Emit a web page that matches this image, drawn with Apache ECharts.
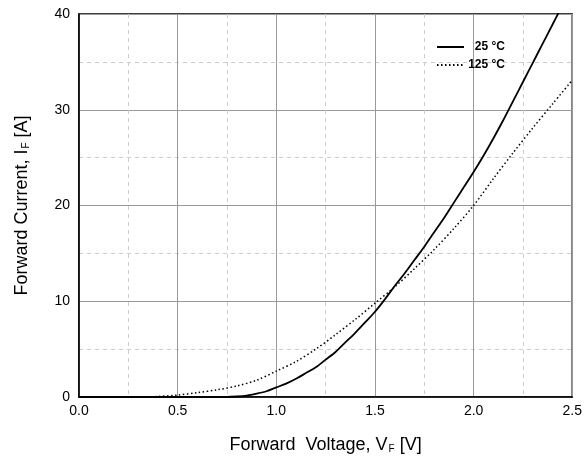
<!DOCTYPE html>
<html>
<head>
<meta charset="utf-8">
<script src="https://cdn.jsdelivr.net/npm/echarts@6/dist/echarts.min.js"></script>
<style>html,body{margin:0;padding:0;background:#fff}#c{width:585px;height:459px}</style>
</head>
<body>
<div id="c"></div>
<script>
const xTicks = [0.0, 0.5, 1.0, 1.5, 2.0, 2.5];
const yTicks = [0, 10, 20, 30, 40];
const seriesNames = ['25 °C', '125 °C'];
const v25 = [0.00, 0.75, 0.80, 0.85, 0.90, 0.95, 1.00, 1.05, 1.10, 1.15, 1.20, 1.25, 1.30, 1.35, 1.40, 1.45, 1.50, 1.55, 1.60, 1.65, 1.70, 1.75, 1.80, 1.85, 1.90, 1.95, 2.00, 2.05, 2.10, 2.15, 2.20, 2.25, 2.30, 2.35, 2.40, 2.44];
const i25 = [0.00, 0.00, 0.05, 0.15, 0.35, 0.60, 1.00, 1.40, 1.90, 2.50, 3.10, 3.90, 4.70, 5.70, 6.70, 7.80, 8.90, 10.20, 11.60, 12.90, 14.30, 15.70, 17.20, 18.70, 20.30, 21.90, 23.50, 25.20, 27.00, 28.90, 30.90, 32.90, 34.90, 36.90, 38.90, 40.50];
const v125 = [0.00, 0.35, 0.40, 0.50, 0.60, 0.70, 0.80, 0.90, 1.00, 1.10, 1.20, 1.30, 1.40, 1.50, 1.60, 1.70, 1.80, 1.90, 2.00, 2.10, 2.20, 2.30, 2.40, 2.50];
const i125 = [0.00, 0.00, 0.05, 0.20, 0.45, 0.75, 1.15, 1.75, 2.70, 3.70, 5.00, 6.50, 8.10, 9.80, 11.50, 13.40, 15.40, 17.60, 20.00, 22.80, 25.50, 28.10, 30.60, 33.10];

const pair = (xs, ys) => xs.map((x, k) => [x, ys[k]]);
const chart = echarts.init(document.getElementById('c'), null, {renderer: 'canvas'});
const FF = 'Liberation Sans, Arial, sans-serif';
const labelFont = {fontFamily: FF, fontSize: 14, color: '#000'};
const nameRich = {
  n: {fontFamily: FF, fontSize: 18, color: '#000', verticalAlign: 'bottom'},
  s: {fontFamily: FF, fontSize: 10, color: '#000', padding: [12, 0, 0, 1], verticalAlign: 'bottom'}
};
chart.setOption({
  animation: false,
  backgroundColor: '#fff',
  grid: {left: 79, top: 14, right: 11, bottom: 62, show: true, borderColor: '#000', borderWidth: 1.5, backgroundColor: 'transparent'},
  legend: {
    orient: 'vertical', left: 431, top: 36, itemWidth: 27, itemHeight: 12, itemGap: 6,
    itemStyle: {opacity: 0, color: 'transparent', borderWidth: 0},
    formatter: '{a|{name}}',
    textStyle: {fontFamily: FF, fontSize: 12, color: '#000', fontWeight: 'bold',
      rich: {a: {fontFamily: FF, fontSize: 12, color: '#000', fontWeight: 'bold', width: 36, align: 'right'}}},
    data: seriesNames.map(n => ({name: n}))
  },
  xAxis: {
    type: 'value', min: 0, max: 2.5, interval: 0.5,
    axisLine: {show: true, lineStyle: {color: '#000', width: 1.5}},
    axisTick: {show: false},
    axisLabel: Object.assign({margin: 7, formatter: v => v.toFixed(1)}, labelFont),
    splitLine: {show: true, lineStyle: {color: '#999', width: 1}},
    minorTick: {show: false, splitNumber: 2},
    minorSplitLine: {show: true, lineStyle: {color: '#ccc', width: 1, type: [4, 4]}},
    name: '{n|Forward  Voltage, V}{s|F}{n| [V]}',
    nameLocation: 'middle', nameGap: 35,
    nameTextStyle: {rich: nameRich}
  },
  yAxis: {
    type: 'value', min: 0, max: 40, interval: 10,
    axisLine: {show: true, lineStyle: {color: '#000', width: 1.5}},
    axisTick: {show: false},
    axisLabel: Object.assign({margin: 9}, labelFont),
    splitLine: {show: true, lineStyle: {color: '#999', width: 1}},
    minorTick: {show: false, splitNumber: 2},
    minorSplitLine: {show: true, lineStyle: {color: '#ccc', width: 1, type: [4, 4]}},
    name: '{n|Forward Current, I}{s|F}{n| [A]}',
    nameLocation: 'middle', nameGap: 48,
    nameTextStyle: {rich: nameRich}
  },
  series: [
    {name: seriesNames[0], type: 'line', data: pair(v25, i25), smooth: 0.3, symbol: 'none', showSymbol: false, clip: true,
     lineStyle: {color: '#000', width: 1.8, type: 'solid'}, itemStyle: {color: '#000'}},
    {name: seriesNames[1], type: 'line', data: pair(v125, i125), smooth: 0.3, symbol: 'none', showSymbol: false, clip: true,
     lineStyle: {color: '#000', width: 1.5, type: [1.5, 2.5]}, itemStyle: {color: '#000'}}
  ]
});
</script>
</body>
</html>
